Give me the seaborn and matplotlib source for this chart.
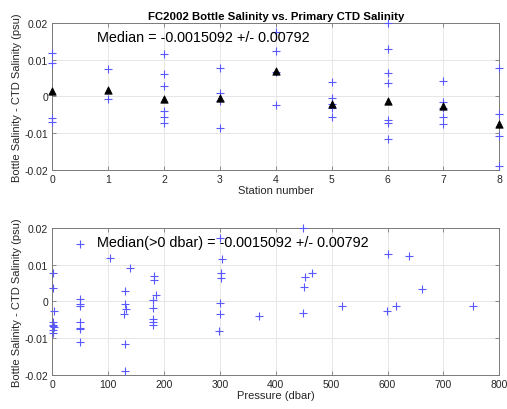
import matplotlib
matplotlib.use("Agg")
import matplotlib.pyplot as plt
import seaborn as sns
import pandas as pd
import numpy as np

# ---- data: top panel (station vs difference) ----
station = [0, 0, 0, 0,
           1, 1,
           2, 2, 2, 2, 2, 2,
           3, 3, 3, 3,
           4, 4, 4, 4,
           5, 5, 5, 5, 5,
           6, 6, 6, 6, 6, 6, 6,
           7, 7, 7, 7, 7,
           8, 8, 8, 8]
station_diff = [0.0119, 0.0092, -0.0059, -0.0071,
                0.0075, -0.0007,
                0.0115, 0.0060, 0.0027, -0.0039, -0.0056, -0.0072,
                0.0078, 0.0009, -0.0014, -0.0086,
                0.0176, 0.0123, 0.0065, -0.0023,
                0.0038, -0.0005, -0.0021, -0.0033, -0.0056,
                0.0200, 0.0128, 0.0064, 0.0035, -0.0065, -0.0073, -0.0117,
                0.0042, -0.0016, -0.0033, -0.0056, -0.0076,
                0.0076, -0.0049, -0.0108, -0.0191]
median_station = [0, 1, 2, 3, 4, 5, 6, 7, 8]
median_diff = [0.0015, 0.0018, -0.0007, -0.0004, 0.0068, -0.0021, -0.0013, -0.0026, -0.0075]

# ---- data: bottom panel (pressure vs difference) ----
pressure = [1, 2, 3, 1, 2, 3, 1, 2, 1,
            50, 50, 50, 50, 50, 50, 50, 49,
            103, 139, 130, 130, 131, 129, 130, 130,
            182, 182, 185, 181, 180, 180, 180, 180,
            301, 303, 302, 302, 300, 301, 298,
            370,
            449, 452, 465, 451, 448,
            519, 600, 639, 661, 599, 615, 753]
press_diff = [0.0077, 0.0036, -0.0026, -0.0057, -0.0064, -0.0071, -0.0078, -0.0085, -0.0068,
              0.0156, 0.0007, -0.0006, -0.0012, -0.0057, -0.0072, -0.0075, -0.0110,
              0.0119, 0.0091, 0.0027, -0.0007, -0.0021, -0.0035, -0.0116, -0.0190,
              0.0070, 0.0059, 0.0018, 0.0004, -0.0018, -0.0049, -0.0057, -0.0064,
              0.0173, 0.0115, 0.0076, 0.0063, -0.0005, -0.0035, -0.0081,
              -0.0041,
              0.0200, 0.0067, 0.0076, 0.0039, -0.0033,
              -0.0014, 0.0129, 0.0123, 0.0034, -0.0026, -0.0014, -0.0014]

title = "FC2002 Bottle Salinity vs. Primary CTD Salinity"
top_note = "Median = -0.0015092 +/- 0.00792"
bottom_note = "Median(>0 dbar) = -0.0015092 +/- 0.00792"
ylabel = "Bottle Salinity - CTD Salinity (psu)"
yticks = [-0.02, -0.01, 0, 0.01, 0.02]
ytick_labels = ["-0.02", "-0.01", "0", "0.01", "0.02"]

sns.set_theme(style="white")
plt.rcParams['font.family'] = ['Liberation Sans', 'DejaVu Sans']

fig = plt.figure(figsize=(5.07, 4.10), dpi=100)
ax1 = fig.add_axes([0.1032, 0.5837, 0.8816, 0.3578])
ax2 = fig.add_axes([0.1032, 0.0837, 0.8816, 0.3578])

plus_color = (0.35, 0.35, 1.0)

df_top = pd.DataFrame({"station": station, "diff": station_diff})
df_med = pd.DataFrame({"station": median_station, "diff": median_diff})
df_bot = pd.DataFrame({"pressure": pressure, "diff": press_diff})

sns.scatterplot(data=df_top, x="station", y="diff", marker="+", color=plus_color,
                s=30, linewidth=0.8, ax=ax1, clip_on=False, zorder=3)
sns.scatterplot(data=df_med, x="station", y="diff", marker="^", color="black",
                s=28, linewidth=0.6, edgecolor="black", ax=ax1, clip_on=False, zorder=4)
sns.scatterplot(data=df_bot, x="pressure", y="diff", marker="+", color=plus_color,
                s=30, linewidth=0.8, ax=ax2, clip_on=False, zorder=3)

for ax, xl, xlim, xticks in [(ax1, "Station number", (0, 8), list(range(9))),
                             (ax2, "Pressure (dbar)", (0, 800), list(range(0, 801, 100)))]:
    ax.set_xlim(*xlim)
    ax.set_ylim(-0.02, 0.02)
    ax.set_xticks(xticks)
    ax.set_xticklabels([str(t) for t in xticks])
    ax.set_yticks(yticks)
    ax.set_yticklabels(ytick_labels)
    ax.grid(True, color="#e6e6e6", linewidth=0.7)
    ax.set_axisbelow(True)
    for sp in ax.spines.values():
        sp.set_color("#7a7a7a")
        sp.set_linewidth(0.7)
    ax.tick_params(direction="in", length=3, width=0.6, color="#7a7a7a",
                   labelsize=7.5, labelcolor="#262626", top=True, right=True,
                   bottom=True, left=True, pad=3)
    ax.set_xlabel(xl, fontsize=8, color="#262626", labelpad=1)
    ax.set_ylabel(ylabel, fontsize=8, color="#262626", labelpad=2)

ax1.set_title(title, fontsize=8.2, fontweight="bold", color="black", pad=3)
ax1.text(0.10, 0.905, top_note, transform=ax1.transAxes, fontsize=10.4,
         color="black", ha="left", va="center")
ax2.text(0.10, 0.905, bottom_note, transform=ax2.transAxes, fontsize=10.4,
         color="black", ha="left", va="center")

fig.savefig("out.png", dpi=100)
